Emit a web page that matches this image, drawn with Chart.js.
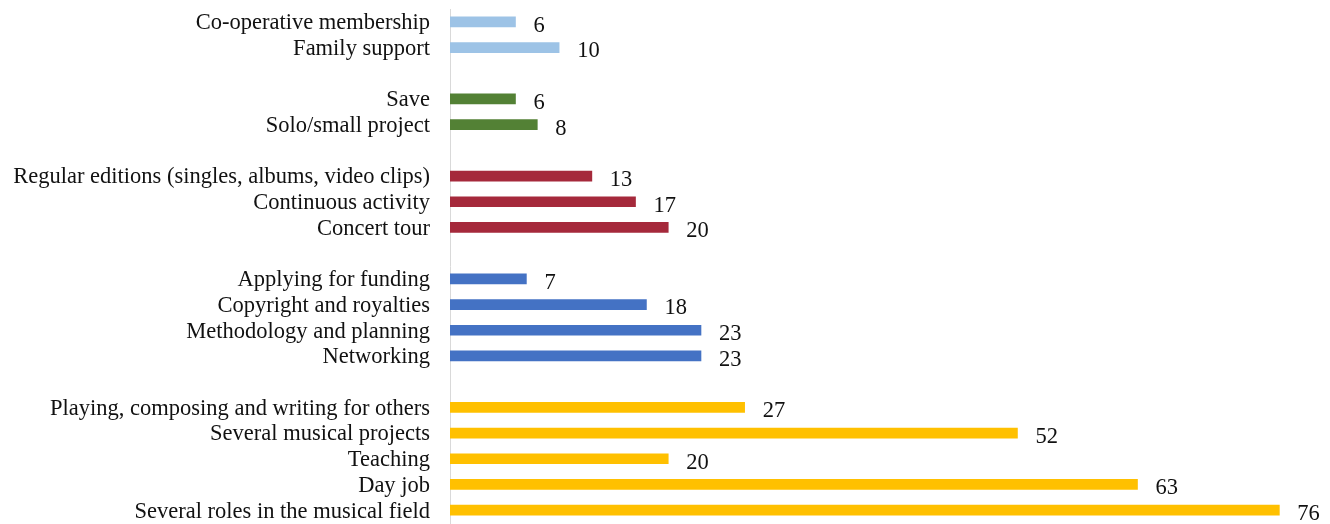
<!DOCTYPE html>
<html lang="en">
<head>
    <meta charset="UTF-8">
    <title>Strategies</title>
    <script src="https://cdn.jsdelivr.net/npm/chart.js"></script>
    <style>
        body {
            margin: 0;
            background: #fff;
        }
        .wrap {
            width: 1330px;
            height: 524px;
            position: relative;
        }
    </style>
</head>
<body>
    <div class="wrap">
        <canvas id="barChart"></canvas>
    </div>

    <script>
// rows top to bottom, "" rows are the gaps between groups
let labels = [
    "Co-operative membership", "Family support", "",
    "Save", "Solo/small project", "",
    "Regular editions (singles, albums, video clips)", "Continuous activity", "Concert tour", "",
    "Applying for funding", "Copyright and royalties", "Methodology and planning", "Networking", "",
    "Playing, composing and writing for others", "Several musical projects", "Teaching", "Day job", "Several roles in the musical field"
];
let values = [
    6, 10, null,
    6, 8, null,
    13, 17, 20, null,
    7, 18, 23, 23, null,
    27, 52, 20, 63, 76
];
let groups = [
    0, 0, null,
    1, 1, null,
    2, 2, 2, null,
    3, 3, 3, 3, null,
    4, 4, 4, 4, 4
];
let groupColors = ['#9dc3e6', '#538135', '#a5293b', '#4472c4', '#ffc000'];

const serif = "'Liberation Serif', 'Times New Roman', serif";

// draws the value next to each bar end
const valueLabels = {
    id: 'valueLabels',
    afterDatasetsDraw(chart) {
        let ctx = chart.ctx;
        let meta = chart.getDatasetMeta(0);
        ctx.save();
        ctx.font = "22.5px " + serif;
        ctx.fillStyle = '#111';
        ctx.textAlign = 'left';
        ctx.textBaseline = 'middle';
        meta.data.forEach((bar, i) => {
            if (values[i] === null) return;
            ctx.fillText(String(values[i]), bar.x + 18, bar.y + 4);
        });
        ctx.restore();
    }
};

let ctx = document.getElementById('barChart').getContext('2d');
let chart = new Chart(ctx, {
    type: 'bar',
    data: {
        labels: labels,
        datasets: [{
            data: values,
            backgroundColor: groups.map(g => g === null ? 'transparent' : groupColors[g]),
            barThickness: 10
        }]
    },
    plugins: [valueLabels],
    options: {
        indexAxis: 'y',
        responsive: true,
        maintainAspectRatio: false,
        animation: false,
        layout: {
            padding: { top: 9, right: 7, bottom: 1, left: 0 }
        },
        scales: {
            x: {
                min: 0,
                max: 80,
                display: false
            },
            y: {
                grid: { display: false, drawTicks: false },
                border: { display: true, color: '#d9d9d9', width: 1 },
                ticks: {
                    color: '#111',
                    padding: 20,
                    autoSkip: false,
                    labelOffset: 1.5,
                    font: { family: serif, size: 22.5 }
                },
                afterFit(scale) {
                    scale.width = 450;
                    scale.paddingTop = 0;
                    scale.paddingBottom = 0;
                }
            }
        },
        plugins: {
            legend: { display: false },
            tooltip: { enabled: false }
        }
    }
});
    </script>
</body>
</html>
